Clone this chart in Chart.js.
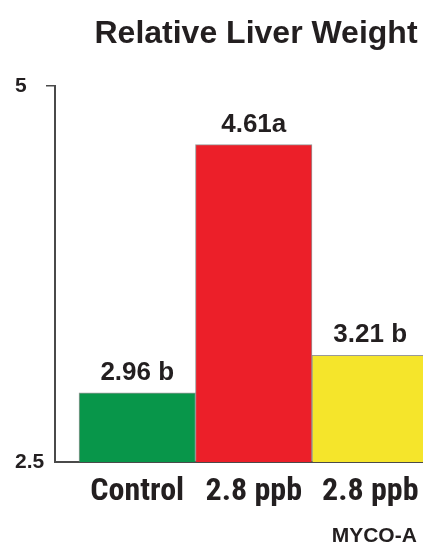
<!DOCTYPE html>
<html>
<head>
<meta charset="utf-8">
<script src="https://cdn.jsdelivr.net/npm/chart.js@4.4.0/dist/chart.umd.min.js"></script>
<style>
  html, body { margin: 0; padding: 0; background: #ffffff; }
  #wrap { width: 423px; height: 545px; position: relative; }
</style>
</head>
<body>
<div id="wrap"><canvas id="c" width="423" height="545"></canvas></div>
<script>
// ---- data ----
const categories = ['Control', '2.8 ppb', '2.8 ppb'];
const subLabels = ['', '', 'MYCO-A'];
const values = [2.96, 4.61, 3.21];
const significance = [' b', 'a', ' b'];
const barColors = ['#08964a', '#ec1f29', '#f5e52b'];
const yTicks = [2.5, 5];
const titleText = 'Relative Liver Weight';

const textColor = '#231f20';
const axisColor = '#4a4a4a';
const mainFont = "'Liberation Sans', Arial, sans-serif";
const narrowFont = "'Roboto Condensed', 'Liberation Sans', sans-serif";

const points = values.map((v, i) => ({ x: i, y: v }));

const titlePlugin = {
  id: 'titleText',
  afterDraw(chart) {
    const ctx = chart.ctx;
    ctx.save();
    ctx.font = 'bold 32px ' + mainFont;
    ctx.fillStyle = textColor;
    ctx.textAlign = 'center';
    ctx.textBaseline = 'alphabetic';
    ctx.fillText(titleText, 256, 43);
    ctx.restore();
  }
};

const valueLabels = {
  id: 'valueLabels',
  afterDatasetsDraw(chart) {
    const ctx = chart.ctx;
    const meta = chart.getDatasetMeta(0);
    ctx.save();
    ctx.font = 'bold 26px ' + mainFont;
    ctx.fillStyle = textColor;
    ctx.textAlign = 'center';
    ctx.textBaseline = 'alphabetic';
    meta.data.forEach((bar, i) => {
      const txt = values[i].toFixed(2) + significance[i];
      ctx.fillText(txt, bar.x, bar.y - 13);
    });
    ctx.restore();
  }
};

const subLabelPlugin = {
  id: 'subLabels',
  afterDraw(chart) {
    const ctx = chart.ctx;
    const xs = chart.scales.x;
    ctx.save();
    ctx.font = 'bold 21px ' + mainFont;
    ctx.fillStyle = textColor;
    ctx.textAlign = 'center';
    ctx.textBaseline = 'alphabetic';
    subLabels.forEach((t, i) => {
      if (t) ctx.fillText(t, xs.getPixelForValue(i) + 4, 542);
    });
    ctx.restore();
  }
};

new Chart(document.getElementById('c'), {
  type: 'bar',
  data: {
    datasets: [{
      data: points,
      backgroundColor: barColors,
      borderColor: 'rgba(110,110,110,0.7)',
      borderWidth: 1,
      barPercentage: 1,
      categoryPercentage: 1
    }]
  },
  options: {
    responsive: false,
    animation: false,
    layout: { padding: { left: 15, right: 0, top: 86, bottom: 0 } },
    plugins: {
      legend: { display: false },
      tooltip: { enabled: false },
      title: { display: false }
    },
    scales: {
      x: {
        type: 'linear',
        offset: false,
        min: -0.706,
        max: 2.453,
        afterBuildTicks(scale) { scale.ticks = categories.map((c, i) => ({ value: i })); },
        afterFit(scale) { scale.height = 83; scale.paddingRight = 0; scale.paddingLeft = 0; },
        grid: { display: false, offset: false },
        border: { display: true, color: axisColor, width: 2 },
        ticks: {
          autoSkip: false,
          maxRotation: 0,
          padding: 3,
          color: textColor,
          font: { family: narrowFont, size: 32, weight: 'bold' },
          callback: (v) => categories[v] !== undefined ? categories[v] : ''
        }
      },
      y: {
        min: 2.5,
        max: 5,
        afterBuildTicks(scale) { scale.ticks = yTicks.map(v => ({ value: v })); },
        afterFit(scale) { scale.width = 40; },
        grid: {
          display: true,
          drawOnChartArea: false,
          drawTicks: true,
          tickLength: 9,
          color: (ctx) => (ctx.tick && ctx.tick.value === 5) ? axisColor : 'rgba(0,0,0,0)',
          lineWidth: 1.5
        },
        border: { display: true, color: axisColor, width: 2 },
        ticks: {
          crossAlign: 'far',
          color: textColor,
          font: { family: mainFont, size: 21, weight: 'bold' },
          callback: (v) => String(v)
        }
      }
    }
  },
  plugins: [valueLabels, subLabelPlugin, titlePlugin]
});
</script>
</body>
</html>
